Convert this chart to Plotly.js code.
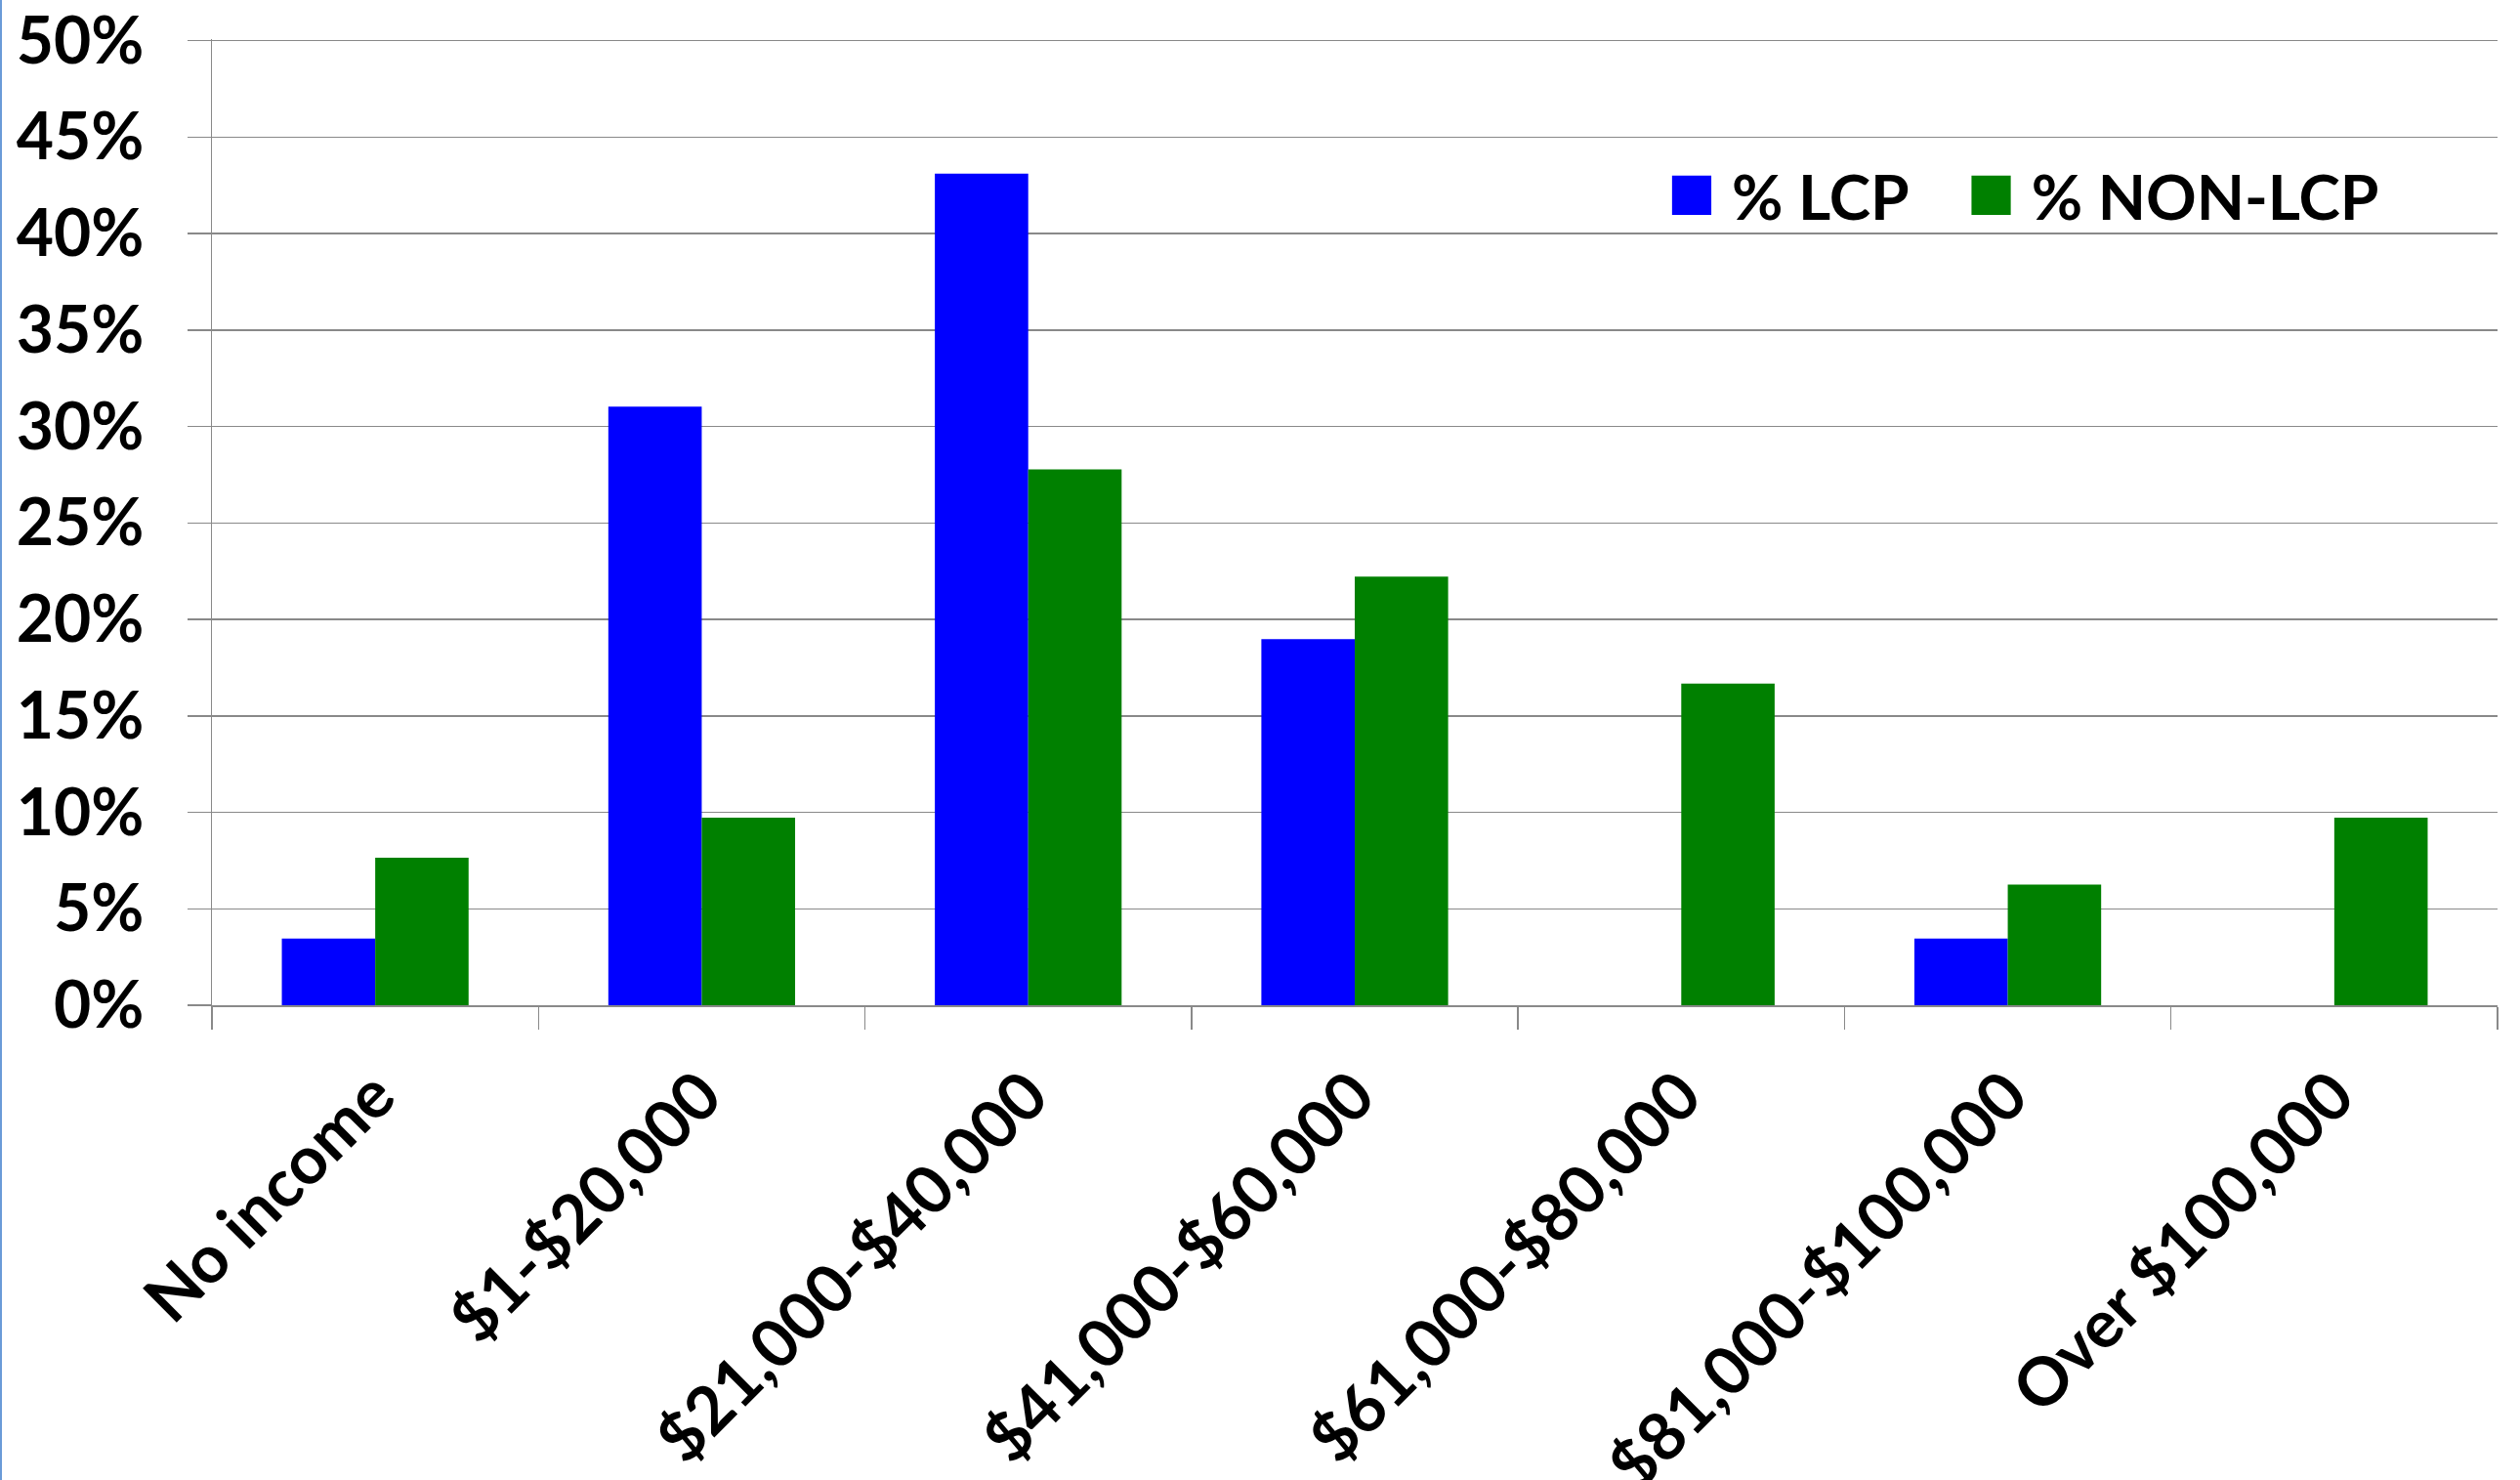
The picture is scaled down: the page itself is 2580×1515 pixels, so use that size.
<!DOCTYPE html>
<html>
<head>
<meta charset="utf-8">
<script src="https://cdn.plot.ly/plotly-3.0.1.min.js"></script>
<style>
  html, body { margin: 0; padding: 0; background: #ffffff; }
  #chart { width: 2580px; height: 1515px; }
  #edge { position: absolute; left: 0; top: 0; width: 2px; height: 1515px; background: #6a9bd8; z-index: 5; }
</style>
</head>
<body>
<div id="edge"></div>
<div id="chart"></div>
<script>
const categories = ["No income", "$1-$20,000", "$21,000-$40,000", "$41,000-$60,000", "$61,000-$80,000", "$81,000-$100,000", "Over $100,000"];
const lcpValues = [3.45, 31.03, 43.10, 18.97, 0, 3.45, 0];
const nonLcpValues = [7.64, 9.72, 27.78, 22.22, 16.67, 6.25, 9.72];
const seriesNames = ["% LCP", "% NON-LCP"];
const yTickVals = [0, 5, 10, 15, 20, 25, 30, 35, 40, 45, 50];

const FONT = "Lato, 'Open Sans', sans-serif";
const gridGray = "#898989";

const traces = [
  { type: "bar", name: seriesNames[0], x: categories, y: lcpValues, marker: { color: "#0000FF" } },
  { type: "bar", name: seriesNames[1], x: categories, y: nonLcpValues, marker: { color: "#008000" } }
];

const layout = {
  width: 2580, height: 1515,
  margin: { l: 217, r: 23, t: 40, b: 486, pad: 0 },
  paper_bgcolor: "#ffffff", plot_bgcolor: "#ffffff",
  font: { family: FONT, size: 64, color: "#000000", weight: "bold" },
  barmode: "group", bargap: 0.428, bargroupgap: 0,
  showlegend: true,
  legend: {
    orientation: "h", x: 0.6137, xanchor: "left", y: 0.838, yanchor: "middle",
    font: { family: FONT, size: 64, color: "#000000", weight: "bold" },
    bgcolor: "rgba(0,0,0,0)", itemwidth: 110, traceorder: "normal"
  },
  xaxis: {
    type: "category", tickangle: -45, tickson: "boundaries",
    ticks: "outside", ticklen: 23, tickwidth: 1.5, tickcolor: gridGray,
    showline: true, linecolor: gridGray, linewidth: 1.5,
    showgrid: false, zeroline: false,
    tickfont: { family: FONT, size: 68, color: "#000000", weight: "bold" },
    ticklabelstandoff: 24, ticklabeloverflow: "allow"
  },
  yaxis: {
    range: [0, 50.08], tickmode: "array", tickvals: yTickVals,
    ticktext: yTickVals.map(v => v + "%"),
    ticks: "outside", ticklen: 24, tickwidth: 1.5, tickcolor: gridGray,
    showline: true, linecolor: gridGray, linewidth: 1.5,
    showgrid: true, gridcolor: gridGray, gridwidth: 1.5, zeroline: false,
    tickfont: { family: FONT, size: 66, color: "#000000", weight: "bold" },
    ticklabelstandoff: 31, ticklabeloverflow: "allow"
  }
};

Plotly.newPlot("chart", traces, layout, { displayModeBar: false, staticPlot: true }).then(() => {
  document.querySelectorAll("#chart .legend g.traces").forEach(item => {
    const txt = item.querySelector("text.legendtext");
    const path = item.querySelector(".legendpoints path");
    if (!txt || !path) return;
    const base = path.getAttribute("transform") || "";
    path.setAttribute("transform", base + " scale(3.35)");
    const tr = txt.getBoundingClientRect();
    const pr = path.getBoundingClientRect();
    const dx = (tr.left - 21) - pr.right;
    path.setAttribute("transform", base + " translate(" + dx + ",0) scale(3.35)");
  });
});
</script>
</body>
</html>
